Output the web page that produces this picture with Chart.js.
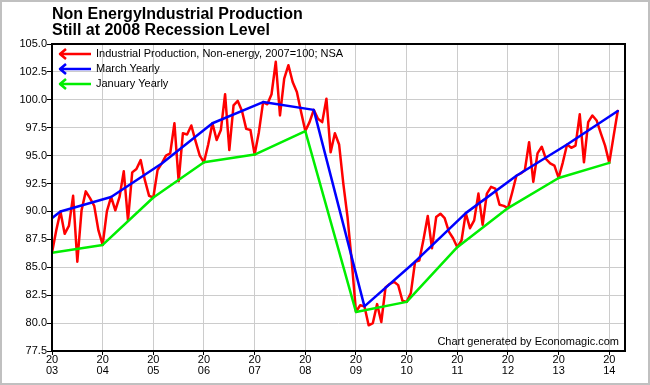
<!DOCTYPE html>
<html>
<head>
<meta charset="utf-8">
<script src="https://cdn.jsdelivr.net/npm/chart.js@4.4.0/dist/chart.umd.min.js"></script>
<style>
  html, body { margin: 0; padding: 0; background: #fff; }
  #wrap { width: 650px; height: 385px; position: relative; }
</style>
</head>
<body>
<div id="wrap"><canvas id="chart"></canvas></div>
<script>
// Monthly index, Jan 2003 .. Mar 2014 (2007=100, NSA)
const startYear = 2003;
const production = [
    86.3, 88.3, 90.0, 88.0, 88.7, 91.4, 85.5, 90.1, 91.8, 91.2, 90.5, 88.3,
    87.0, 90.0, 91.3, 90.1, 91.3, 93.6, 89.2, 93.5, 93.8, 94.6, 92.8, 91.4,
    91.25, 93.7, 94.3, 95.0, 95.2, 97.9, 92.7, 97.0, 96.9, 97.7, 96.3, 95.0,
    94.4, 96.0, 97.9, 96.4, 97.3, 100.5, 95.5, 99.5, 99.9, 99.0, 97.4, 97.3,
    95.1, 97.1, 99.8, 99.6, 100.5, 103.4, 98.6, 101.9, 103.1, 101.6, 100.7, 98.9,
    97.2, 98.0, 99.1, 98.3, 98.0, 100.1, 95.3, 97.0, 96.0, 92.5, 89.5, 85.5,
    81.0, 81.6, 81.5, 79.8, 80.0, 81.7, 80.1, 83.2, 83.5, 83.7, 83.4, 82.0,
    81.9, 82.7, 85.5, 85.6, 87.5, 89.6, 86.7, 89.5, 89.8, 89.4, 88.2, 87.6,
    86.8, 87.4, 89.85, 88.5, 89.2, 91.6, 88.8, 91.6, 92.2, 92.05, 90.6, 90.5,
    90.3, 91.7, 93.2, 93.4, 93.7, 96.2, 92.65, 95.2, 95.8, 94.7, 94.3, 94.1,
    93.0, 94.4, 96.0, 95.7, 95.9, 98.7, 94.4, 98.0, 98.6, 98.15, 97.0, 95.9,
    94.35, 96.7, 99.0
];

// March of each year (the 2002 point only shows as the clipped first segment)
const marchYears = [2002, 2003, 2004, 2005, 2006, 2007, 2008, 2009, 2010, 2011, 2012, 2013, 2014];
const marchValues = [86.4, 90.0, 91.3, 94.3, 97.9, 99.8, 99.1, 81.5, 85.5, 89.85, 93.2, 96.0, 99.0];

// January of each year
const januaryYears = [2003, 2004, 2005, 2006, 2007, 2008, 2009, 2010, 2011, 2012, 2013, 2014];
const januaryValues = [86.3, 87.0, 91.25, 94.4, 95.1, 97.2, 81.0, 81.9, 86.8, 90.3, 93.0, 94.35];

const tickYears = [2003, 2004, 2005, 2006, 2007, 2008, 2009, 2010, 2011, 2012, 2013, 2014];
const yTicks = [77.5, 80, 82.5, 85, 87.5, 90, 92.5, 95, 97.5, 100, 102.5, 105];

const titleLines = ['Non EnergyIndustrial Production', 'Still at 2008 Recession Level'];
const legendLabels = ['Industrial Production, Non-energy, 2007=100; NSA', 'March Yearly', 'January Yearly'];
const seriesColors = ['#ff0000', '#0000ff', '#00ee00'];
const creditText = 'Chart generated by Economagic.com';

const FONT = "'Liberation Sans', Arial, Helvetica, sans-serif";

// Title, frame, legend and credit line
const decorations = {
    id: 'decorations',
    beforeDraw(chart) {
        const ctx = chart.ctx;
        ctx.save();
        ctx.fillStyle = '#fff';
        ctx.fillRect(0, 0, chart.width, chart.height);
        ctx.strokeStyle = '#c0c0c0';
        ctx.lineWidth = 2;
        ctx.strokeRect(1, 1, chart.width - 2, chart.height - 2);

        ctx.fillStyle = '#000';
        ctx.font = 'bold 16px ' + FONT;
        ctx.textAlign = 'left';
        ctx.textBaseline = 'alphabetic';
        ctx.fillText(titleLines[0], 52, 19);
        ctx.fillText(titleLines[1], 52, 35);
        ctx.restore();
    },
    afterDraw(chart) {
        const ctx = chart.ctx;
        const area = chart.chartArea;
        ctx.save();

        // plot frame
        ctx.strokeStyle = '#000';
        ctx.lineWidth = 2;
        ctx.strokeRect(area.left, area.top, area.right - area.left, area.bottom - area.top);

        // legend with left-pointing arrows
        ctx.font = '11px ' + FONT;
        ctx.textBaseline = 'middle';
        ctx.textAlign = 'left';
        ctx.lineJoin = 'round';
        legendLabels.forEach((label, i) => {
            const y = 54 + i * 15;
            ctx.strokeStyle = seriesColors[i];
            ctx.lineWidth = 2.5;
            ctx.beginPath();
            ctx.moveTo(91, y);
            ctx.lineTo(60, y);
            ctx.moveTo(66, y - 5);
            ctx.lineTo(60, y);
            ctx.lineTo(66, y + 5);
            ctx.stroke();
            ctx.fillStyle = '#000';
            ctx.fillText(label, 96, y);
        });

        // credit
        ctx.textAlign = 'right';
        ctx.fillText(creditText, 619, 342);
        ctx.restore();
    }
};

const monthlyPoints = production.map((v, i) => ({ x: startYear + i / 12, y: v }));
const marchPoints = marchYears.map((yr, i) => ({ x: yr + 2 / 12, y: marchValues[i] }));
const januaryPoints = januaryYears.map((yr, i) => ({ x: yr, y: januaryValues[i] }));

const lineStyle = {
    borderWidth: 2.5,
    borderJoinStyle: 'round',
    borderCapStyle: 'round',
    pointRadius: 0,
    pointHoverRadius: 0,
    fill: false,
    tension: 0
};

new Chart(document.getElementById('chart'), {
    type: 'line',
    data: {
        datasets: [
            Object.assign({ label: legendLabels[0], data: monthlyPoints, borderColor: seriesColors[0], order: 3 }, lineStyle),
            Object.assign({ label: legendLabels[1], data: marchPoints, borderColor: seriesColors[1], order: 1 }, lineStyle),
            Object.assign({ label: legendLabels[2], data: januaryPoints, borderColor: seriesColors[2], order: 2 }, lineStyle)
        ]
    },
    options: {
        responsive: true,
        maintainAspectRatio: false,
        animation: false,
        layout: {
            padding: { top: 44, right: 25, bottom: 0, left: 0 }
        },
        plugins: {
            legend: { display: false },
            title: { display: false },
            tooltip: { enabled: false }
        },
        scales: {
            x: {
                type: 'linear',
                min: 2003,
                max: 2014.31,
                afterBuildTicks: function(scale) {
                    scale.ticks = tickYears.map(v => ({ value: v }));
                },
                afterFit: function(scale) {
                    scale.height = 34;
                },
                ticks: {
                    autoSkip: false,
                    maxRotation: 0,
                    padding: 0,
                    color: '#000',
                    font: { family: FONT, size: 11, lineHeight: 0.95 },
                    callback: function(value) {
                        return ['20', String(value).slice(2)];
                    }
                },
                grid: { color: '#cccccc', tickColor: '#000', tickLength: 4, lineWidth: 1 },
                border: { display: false }
            },
            y: {
                type: 'linear',
                min: 77.5,
                max: 105,
                afterBuildTicks: function(scale) {
                    scale.ticks = yTicks.map(v => ({ value: v }));
                },
                afterFit: function(scale) {
                    scale.width = 52;
                },
                ticks: {
                    padding: 0,
                    color: '#000',
                    font: { family: FONT, size: 11 },
                    callback: function(value) {
                        return value.toFixed(1);
                    }
                },
                grid: { color: '#cccccc', tickColor: '#000', tickLength: 5, lineWidth: 1 },
                border: { display: false }
            }
        }
    },
    plugins: [decorations]
});
</script>
</body>
</html>
